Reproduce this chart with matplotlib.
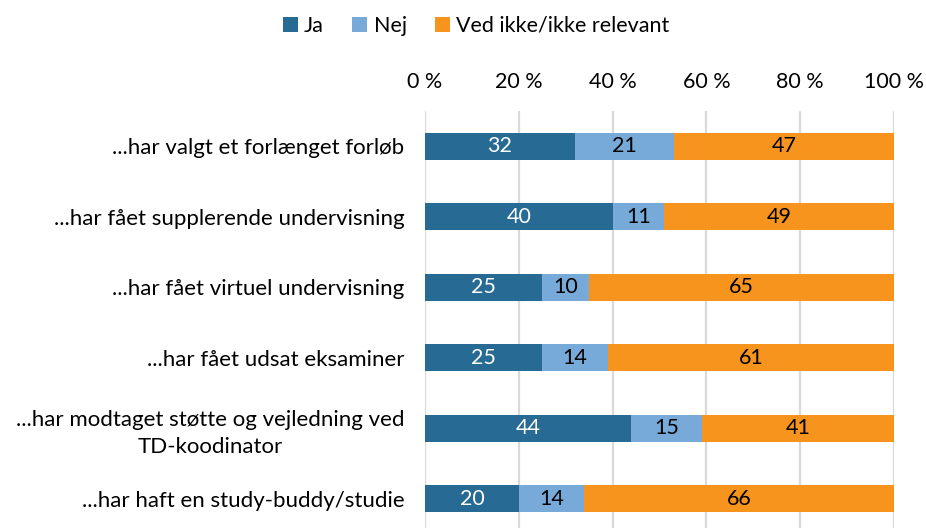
import matplotlib
matplotlib.use("Agg")
import matplotlib.pyplot as plt
import numpy as np

plt.rcParams['font.family'] = ['Lato', 'DejaVu Sans']

categories = [
    "...har valgt et forlænget forløb",
    "...har fået supplerende undervisning",
    "...har fået virtuel undervisning",
    "...har fået udsat eksaminer",
    "...har modtaget støtte og vejledning ved\nTD-koodinator",
    "...har haft en study-buddy/studie",
]
series_names = ["Ja", "Nej", "Ved ikke/ikke relevant"]
ja = [32, 40, 25, 25, 44, 20]
nej = [21, 11, 10, 14, 15, 14]
ved_ikke = [47, 49, 65, 61, 41, 66]
tick_values = [0, 20, 40, 60, 80, 100]
tick_labels = ["0 %", "20 %", "40 %", "60 %", "80 %", "100 %"]

colors = ["#276A93", "#77AAD8", "#F7941E"]
text_colors = ["white", "black", "black"]
FS = 15.5

fig = plt.figure(figsize=(9.26, 5.28), dpi=100)
ax = fig.add_axes([425/926, 1 - 534/528, (894-425)/926, (534-111)/528])

y = np.arange(len(categories))
left = np.zeros(len(categories))
for vals, c, tc, name in zip([ja, nej, ved_ikke], colors, text_colors, series_names):
    vals = np.array(vals, dtype=float)
    bars = ax.barh(y, vals, left=left, height=0.38, color=c, label=name, zorder=3)
    for b, v, l in zip(bars, vals, left):
        ax.text(l + v/2, b.get_y() + b.get_height()/2, f"{int(v)}", ha='center', va='center',
                color=tc, fontsize=FS, zorder=4)
    left += vals

ax.set_xlim(0, 100)
ax.set_ylim(len(categories) - 0.5, -0.5)
ax.set_xticks(tick_values)
ax.set_xticklabels(tick_labels, fontsize=FS)
ax.xaxis.tick_top()
ax.tick_params(axis='x', length=0, pad=14)
ax.set_yticks(y)
ax.set_yticklabels(categories, fontsize=16, multialignment='center', linespacing=1.4)
ax.tick_params(axis='y', length=0, pad=15)
ax.grid(axis='x', color='#D9D9D9', linewidth=1.6, zorder=0)
for s in ax.spines.values():
    s.set_visible(False)

handles, labels = ax.get_legend_handles_labels()
fig.legend(handles, labels, loc='center', bbox_to_anchor=(476/926, 1 - 26/528), ncol=3,
           frameon=False, fontsize=FS, handlelength=0.7, handleheight=0.7,
           handletextpad=0.3, columnspacing=1.3)

fig.savefig("out.png", dpi=100)
